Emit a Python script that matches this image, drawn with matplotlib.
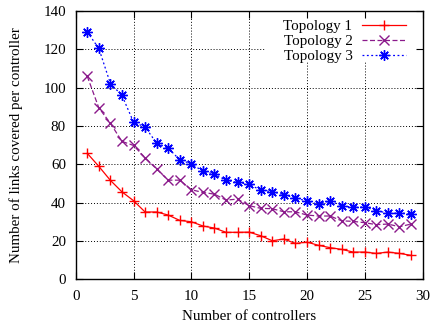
import matplotlib
matplotlib.use("Agg")
import matplotlib.pyplot as plt
from matplotlib.patches import Rectangle

x = list(range(1, 30))
topo1 = [65.7, 58.9, 51.6, 45.6, 41.0, 35.1, 35.1, 33.5, 30.7, 30.0,
         27.8, 26.7, 24.5, 24.5, 24.6, 22.7, 20.1, 21.0, 18.7, 19.4,
         17.7, 16.5, 15.6, 14.2, 14.2, 13.5, 14.2, 13.5, 12.5]
topo2 = [105.9, 89.4, 81.4, 71.9, 69.8, 63.4, 57.5, 51.7, 51.7, 46.7,
         45.3, 44.4, 41.3, 41.8, 38.4, 37.0, 36.8, 35.2, 35.2, 33.5,
         33.0, 33.0, 30.5, 30.2, 29.5, 28.5, 28.8, 27.4, 28.8]
topo3 = [129.0, 120.4, 102.1, 95.9, 82.0, 79.4, 71.0, 68.4, 62.3, 60.2,
         56.4, 54.9, 51.6, 50.5, 49.5, 46.5, 45.7, 44.1, 42.4, 40.8,
         39.1, 40.8, 38.4, 37.5, 37.7, 35.8, 34.5, 34.5, 34.2]
labels = ["Topology 1", "Topology 2", "Topology 3"]
xticks = list(range(0, 31, 5))
yticks = list(range(0, 141, 20))

plt.rcParams['font.family'] = ['Liberation Serif', 'DejaVu Serif']
plt.rcParams['font.size'] = 10.8

fig = plt.figure(figsize=(4.33, 3.28), dpi=100)
ax = fig.add_axes([0.1748, 0.1485, 0.976 - 0.1748, 0.967 - 0.1485])

# grid lines (drawn manually so the key box can hide them but not the ticks)
for xv in xticks[1:-1]:
    ax.axvline(xv, color='black', linestyle=(0, (1, 2)), linewidth=0.7, zorder=0.5)
for yv in yticks[1:-1]:
    ax.axhline(yv, color='black', linestyle=(0, (1, 2)), linewidth=0.7, zorder=0.5)

# white key box
ax.add_patch(Rectangle((0.5455, 0.809), 1 - 0.5455, 1 - 0.809,
                       transform=ax.transAxes, facecolor='white',
                       edgecolor='none', zorder=0.8))

ax.plot(x, topo1, color='#ff0000', linestyle='-', linewidth=0.9,
        marker='+', markersize=7.5, markeredgewidth=1.0, label=labels[0], zorder=2)
ax.plot(x, topo2, color='#8b1a8b', linestyle=(0, (4, 2)), linewidth=0.9,
        marker='x', markersize=6.5, markeredgewidth=1.0, label=labels[1], zorder=2)
ax.plot(x, topo3, color='#0000ff', linestyle=(0, (1.5, 2)), linewidth=0.9,
        marker=(8, 2, 0), markersize=7.5, markeredgewidth=1.0, label=labels[2], zorder=2)

ax.set_xlim(0, 30)
ax.set_ylim(0, 140)
ax.set_xticks(xticks)
ax.set_yticks(yticks)
ax.tick_params(direction='in', top=True, right=True, length=5, width=0.8)
ax.tick_params(axis='x', pad=7.5)
ax.tick_params(axis='y', pad=7)
for s in ax.spines.values():
    s.set_linewidth(1.0)

ax.set_xlabel("Number of controllers", labelpad=5)
ax.set_ylabel("Number of links covered per controller", labelpad=15)

leg = ax.legend(loc='upper right', bbox_to_anchor=(0.965, 0.985),
                markerfirst=False, frameon=False, borderaxespad=0,
                handlelength=2.9, labelspacing=0.1, borderpad=0.3,
                handletextpad=0.67, fontsize=10.8)

fig.savefig("out.png", dpi=100)
